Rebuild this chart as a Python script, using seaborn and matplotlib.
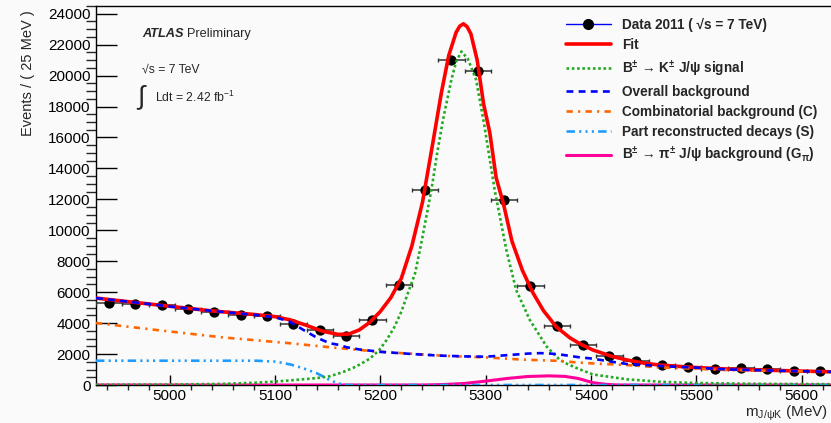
import numpy as np
import pandas as pd
import matplotlib
matplotlib.use("Agg")
import matplotlib.pyplot as plt
from matplotlib.lines import Line2D
import seaborn as sns

# ---------------- data ----------------
bin_centers = [4942.5, 4967.5, 4992.5, 5017.5, 5042.5, 5067.5, 5092.5, 5117.5,
               5142.5, 5167.5, 5192.5, 5217.5, 5242.5, 5267.5, 5292.5, 5317.5,
               5342.5, 5367.5, 5392.5, 5417.5, 5442.5, 5467.5, 5492.5, 5517.5,
               5542.5, 5567.5, 5592.5, 5617.5]
counts = [5320, 5240, 5170, 4890, 4740, 4500, 4460, 3950,
          3560, 3150, 4180, 6470, 12600, 20980, 20270, 11950,
          6420, 3820, 2600, 1900, 1550, 1290, 1140, 1030,
          1120, 1010, 930, 930]
bin_half_width = 12.5

fit_m = [4930, 4960, 5000, 5040, 5080, 5100, 5115, 5130, 5145, 5160, 5170, 5180,
         5190, 5200, 5210, 5220, 5230, 5240, 5250, 5258, 5265, 5272, 5275.5, 5279,
         5282.5, 5286, 5292, 5298, 5304, 5310, 5317, 5325, 5335, 5345, 5355, 5367,
         5380, 5390, 5402, 5420, 5434, 5450, 5465, 5497, 5530, 5560, 5600, 5630]
fit_v = [5620, 5390, 5090, 4790, 4560, 4420, 4200, 3850, 3480, 3270, 3290, 3560,
         4050, 4750, 5650, 6900, 9000, 11800, 15700, 18900, 21300, 22800, 23200, 23350,
         23150, 22700, 21000, 18200, 16300, 13400, 11700, 9300, 7400, 5950, 4800, 3770,
         3050, 2650, 2260, 1850, 1620, 1420, 1290, 1140, 1030, 970, 900, 850]

sig_m = [4930, 5000, 5050, 5082, 5100, 5120, 5140, 5152, 5165, 5177, 5190, 5199,
         5206, 5213, 5220, 5226, 5233, 5239, 5248.5, 5254, 5259.5, 5267.5, 5272, 5277,
         5283, 5291, 5298.5, 5308.6, 5319.7, 5329, 5342, 5358, 5370, 5377, 5388, 5402,
         5434, 5465, 5500, 5550, 5630]
sig_v = [15, 30, 70, 150, 220, 330, 450, 560, 850, 1190, 1700, 2260,
         2910, 3700, 4740, 5900, 7220, 9200, 12610, 15000, 17140, 19730, 20900, 21560,
         21100, 19730, 16900, 12610, 8730, 6140, 4200, 2480, 1650, 1380, 1050, 680,
         370, 210, 130, 80, 50]

bkg_m = [4930, 4960, 5000, 5040, 5080, 5100, 5114, 5127, 5140, 5152, 5161, 5168,
         5180, 5199, 5231, 5256, 5280, 5300, 5323, 5340, 5352, 5362, 5372, 5388,
         5402, 5420, 5434, 5465, 5500, 5529, 5580, 5630]
bkg_v = [5620, 5390, 5080, 4790, 4540, 4380, 4100, 3560, 3050, 2700, 2590, 2440,
         2300, 2150, 2000, 1900, 1850, 1830, 1940, 2030, 2060, 2030, 1960, 1800,
         1700, 1500, 1360, 1230, 1120, 1010, 920, 850]

comb_m = [4930, 4987, 5050, 5114, 5158, 5199, 5263, 5304, 5335, 5370, 5383, 5400,
          5434, 5465, 5529, 5630]
comb_v = [4010, 3560, 3080, 2700, 2400, 2150, 1880, 1770, 1640, 1560, 1480, 1400,
          1290, 1140, 970, 850]

part_m = [4930, 5082, 5101, 5115, 5127, 5140, 5146, 5152, 5160, 5168, 5630]
part_v = [1570, 1570, 1510, 1320, 1080, 750, 540, 320, 100, 0, 0]

gpi_m = [4930, 5240, 5260, 5280, 5300, 5320, 5340, 5360, 5375, 5388, 5402, 5415,
         5425, 5630]
gpi_v = [0, 0, 30, 100, 250, 420, 550, 590, 560, 420, 150, 40, 0, 0]

legend_labels = [
    "Data 2011 ( \u221As = 7 TeV)",
    "Fit",
    "B$^{\\pm}$ \u2192 K$^{\\pm}$ J/\u03c8 signal",
    "Overall background",
    "Combinatorial background (C)",
    "Part reconstructed decays (S)",
    "B$^{\\pm}$ \u2192 \u03c0$^{\\pm}$ J/\u03c8 background (G$_{\\pi}$)",
]

# ---------------- style ----------------
sns.set_style("ticks")
plt.rcParams["font.family"] = ["Liberation Sans", "DejaVu Sans"]
plt.rcParams["mathtext.fontset"] = "custom"
plt.rcParams["mathtext.rm"] = "Liberation Sans"
plt.rcParams["mathtext.it"] = "Liberation Sans:italic"
plt.rcParams["mathtext.bf"] = "Liberation Sans:bold"
plt.rcParams["mathtext.default"] = "regular"

W, H = 831, 423
fig = plt.figure(figsize=(W / 100, H / 100), dpi=100, facecolor="#fafafa")
ax = fig.add_axes([96 / W, 38 / H, (W - 96) / W, (385 - 6) / H])
ax.set_facecolor("#fafafa")

# data points
ax.errorbar(bin_centers, counts, xerr=bin_half_width, yerr=np.sqrt(counts),
            fmt="none", ecolor="#333333", elinewidth=1.1, capsize=1.5,
            capthick=1.0, zorder=3)
sns.scatterplot(x=bin_centers, y=counts, ax=ax, color="black", s=55,
                edgecolor="black", linewidth=0, zorder=4)

lw_thin = 1.9
curve_specs = [
    (gpi_m, gpi_v, "#ff0099", "-", 2.2, 5),
    (part_m, part_v, "#1e9bff", (0, (3.2, 1.6, 0.8, 1.6, 0.8, 1.6, 0.8, 1.6)), lw_thin, 6),
    (comb_m, comb_v, "#ff6600", (0, (2.4, 2.0, 0.8, 2.0)), lw_thin, 7),
    (bkg_m, bkg_v, "#0000ff", (0, (2.6, 2.0)), lw_thin, 8),
    (sig_m, sig_v, "#22aa22", (0, (1.0, 1.0)), lw_thin, 6),
    (fit_m, fit_v, "#ff0000", "-", 2.6, 6.5),
]
for mx, vy, col, ls, lw, z in curve_specs:
    sns.lineplot(x=mx, y=vy, ax=ax, color=col, linestyle=ls, linewidth=lw,
                 zorder=z, estimator=None, sort=False)

ax.set_xlim(4930, 5628)
ax.set_ylim(0, 24500)
ax.set_xticks([5000, 5100, 5200, 5300, 5400, 5500, 5600])
ax.set_xticks(np.arange(4940, 5630, 20), minor=True)
ax.set_yticks(np.arange(0, 24001, 2000))
ax.set_yticks(np.arange(0, 24501, 500), minor=True)
ax.tick_params(axis="both", direction="in", labelsize=11, colors="black")
ax.tick_params(axis="x", which="major", length=7.2, width=1.0, pad=3, top=False)
ax.tick_params(axis="x", which="minor", length=3.6, width=1.0, top=False)
ax.tick_params(axis="y", which="major", length=15, width=1.0, pad=4, right=False)
ax.tick_params(axis="y", which="minor", length=7, width=1.0, right=False)
for s in ["left", "bottom", "top"]:
    ax.spines[s].set_visible(True)
    ax.spines[s].set_color("black")
    ax.spines[s].set_linewidth(1.0)
ax.spines["right"].set_visible(False)
ax.set_xlabel("")
ax.set_ylabel("")

# axis titles
fig.text(28 / W, 1 - 10 / H, "Events / ( 25 MeV )", rotation=90, ha="center",
         va="top", fontsize=10.5)
fig.text(828 / W, 1 - 417 / H, r"m$_{J/\psi K}$ (MeV)", ha="right",
         va="baseline", fontsize=11)

# annotations
fig.text(142 / W, 1 - 34 / H, "ATLAS", fontsize=9.2, fontweight="bold",
         fontstyle="italic", va="center", ha="left")
fig.text(187 / W, 1 - 34 / H, "Preliminary", fontsize=9.2, va="center", ha="left")
fig.text(142 / W, 1 - 70 / H, "\u221As = 7 TeV", fontsize=8.8, va="center", ha="left")
fig.text(136 / W, 1 - 98 / H, r"$\int$", fontsize=19, va="center", ha="left")
fig.text(155 / W, 1 - 97 / H, r"Ldt = 2.42 fb$^{-1}$", fontsize=8.8,
         va="center", ha="left")

# legend
handles = [
    Line2D([], [], color="#0000ff", lw=1.0, marker="o", mfc="black",
           mec="black", ms=7),
]
for mx, vy, col, ls, lw, z in reversed(curve_specs):
    handles.append(Line2D([], [], color=col, linestyle=ls, linewidth=lw))
leg = ax.legend(handles, legend_labels, loc="upper left",
                bbox_to_anchor=(566 / W, 1 - 18 / H), bbox_transform=fig.transFigure,
                frameon=False, borderpad=0, borderaxespad=0,
                handlelength=3.3, handletextpad=0.8, labelspacing=0.45,
                prop={"size": 9.8, "weight": "bold"})

fig.savefig("out.png", dpi=100, facecolor=fig.get_facecolor())
